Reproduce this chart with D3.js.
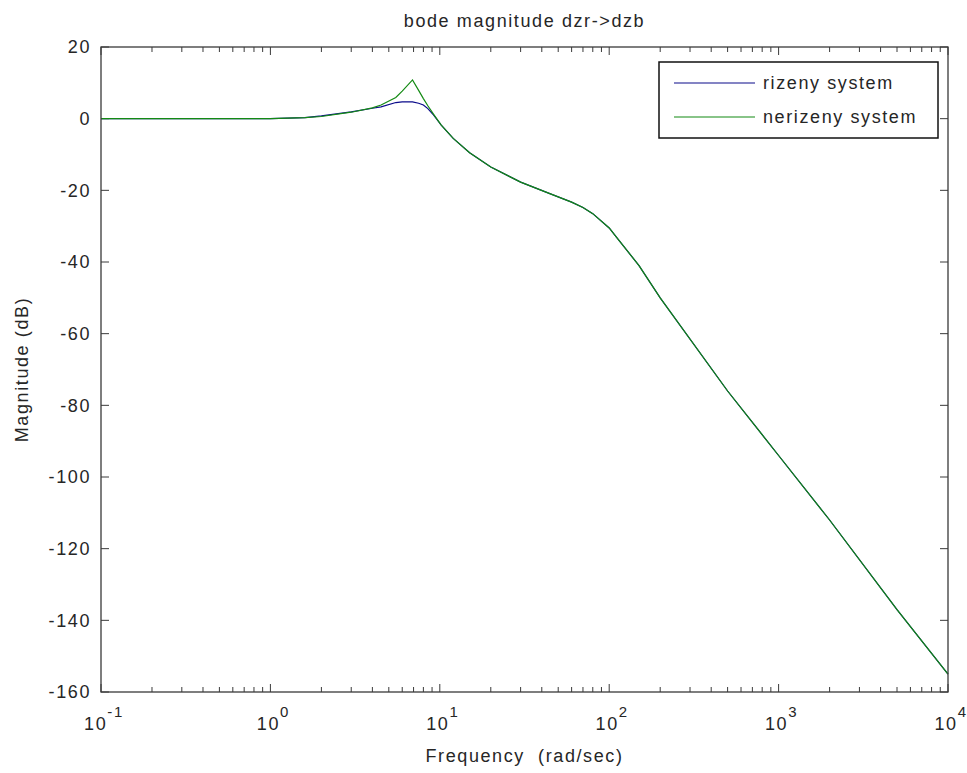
<!DOCTYPE html>
<html>
<head>
<meta charset="utf-8">
<script src="https://cdn.jsdelivr.net/npm/d3@7"></script>
<style>
  body { margin: 0; background: #fff; }
  svg text { font-family: "Liberation Sans", Arial, sans-serif; fill: #262626; }
</style>
</head>
<body>
<div id="chart"></div>
<script>
// frequency points (rad/sec)
let freq = [0.1, 1, 1.6, 2, 3, 4, 4.5, 5.5, 6, 6.9, 7.5, 8, 8.5, 9.2, 10.2, 12, 15, 20, 30, 45, 60, 70, 80, 100, 110, 150, 200, 500, 1000, 2000, 5000, 10000];
// magnitude (dB)
let rizeny   = [0, 0, 0.3, 0.8, 1.9, 2.9, 3.3, 4.5, 4.7, 4.7, 4.3, 3.8, 2.8, 1.0, -1.8, -5.5, -9.5, -13.5, -17.7, -21, -23.3, -24.8, -26.5, -30.5, -33, -41, -50, -76, -94, -112, -137, -155];
let nerizeny = [0, 0, 0.3, 0.6, 1.8, 3.0, 3.8, 5.9, 7.7, 10.8, 7.9, 5.6, 3.6, 1.2, -1.8, -5.5, -9.5, -13.5, -17.7, -21, -23.3, -24.8, -26.5, -30.5, -33, -41, -50, -76, -94, -112, -137, -155];

let series_names = ["rizeny system", "nerizeny system"];
let series_colors = ["#0a0a8a", "#138a13"];

let yticks = [20, 0, -20, -40, -60, -80, -100, -120, -140, -160];
let xdecades = [0.1, 1, 10, 100, 1000, 10000];
let xexponents = ["-1", "0", "1", "2", "3", "4"];

function drawChart() {
    let win_width = 967, win_height = 773;
    let margin = {top: 47, right: 19, bottom: 81, left: 101};
    let width = win_width - margin.left - margin.right;
    let height = win_height - margin.top - margin.bottom;

    let svg = d3.select("#chart")
        .append("svg")
        .attr("width", win_width)
        .attr("height", win_height);

    let g = svg.append("g")
        .attr("transform", "translate(" + margin.left + "," + margin.top + ")");

    let x = d3.scaleLog().domain([0.1, 10000]).range([0, width]);
    let y = d3.scaleLinear().domain([-160, 20]).range([height, 0]);

    let axisColor = "#3a3a3a";
    let fs = 18, ls = "1.6px";

    // minor ticks (log)
    let minor = [];
    xdecades.slice(0, -1).forEach(function(d) {
        for (let k = 2; k <= 9; k++) minor.push(d * k);
    });

    g.selectAll(".minor-b").data(minor).join("line")
        .attr("x1", d => x(d)).attr("x2", d => x(d))
        .attr("y1", height).attr("y2", height - 5)
        .attr("stroke", axisColor);
    g.selectAll(".minor-t").data(minor).join("line")
        .attr("x1", d => x(d)).attr("x2", d => x(d))
        .attr("y1", 0).attr("y2", 5)
        .attr("stroke", axisColor);

    // major ticks x
    g.selectAll(".major-b").data(xdecades).join("line")
        .attr("x1", d => x(d)).attr("x2", d => x(d))
        .attr("y1", height).attr("y2", height - 8)
        .attr("stroke", axisColor);
    g.selectAll(".major-t").data(xdecades).join("line")
        .attr("x1", d => x(d)).attr("x2", d => x(d))
        .attr("y1", 0).attr("y2", 8)
        .attr("stroke", axisColor);

    // y ticks, both sides
    g.selectAll(".ytick-l").data(yticks).join("line")
        .attr("x1", 0).attr("x2", 8)
        .attr("y1", d => y(d)).attr("y2", d => y(d))
        .attr("stroke", axisColor);
    g.selectAll(".ytick-r").data(yticks).join("line")
        .attr("x1", width).attr("x2", width - 8)
        .attr("y1", d => y(d)).attr("y2", d => y(d))
        .attr("stroke", axisColor);

    // y tick labels
    g.selectAll(".ylab").data(yticks).join("text")
        .attr("x", -10)
        .attr("y", d => y(d))
        .attr("dy", "0.35em")
        .attr("text-anchor", "end")
        .style("font-size", fs + "px")
        .style("letter-spacing", ls)
        .text(d => d);

    // x tick labels 10^n
    let xl = g.selectAll(".xlab").data(xdecades).join("text")
        .attr("x", (d, i) => x(d) + 3)
        .attr("y", height + 38)
        .attr("text-anchor", "middle")
        .style("font-size", fs + "px")
        .style("letter-spacing", ls);
    xl.append("tspan").text("10");
    xl.append("tspan")
        .attr("dy", -13)
        .style("font-size", "15px")
        .text((d, i) => xexponents[i]);

    // lines
    let data = [rizeny, nerizeny];
    let line = d3.line()
        .x((d, i) => x(freq[i]))
        .y(d => y(d));

    g.selectAll(".curve").data(data).join("path")
        .attr("fill", "none")
        .attr("stroke", (d, i) => series_colors[i])
        .attr("stroke-width", 1.2)
        .attr("d", line);

    // box
    g.append("rect")
        .attr("x", 0).attr("y", 0)
        .attr("width", width).attr("height", height)
        .attr("fill", "none")
        .attr("stroke", axisColor)
        .attr("stroke-width", 1.3);

    // title and axis labels
    svg.append("text")
        .attr("x", margin.left + width / 2)
        .attr("y", 27)
        .attr("text-anchor", "middle")
        .style("font-size", fs + "px")
        .style("letter-spacing", ls)
        .text("bode magnitude dzr->dzb");

    svg.append("text")
        .attr("x", margin.left + width / 2)
        .attr("y", 762)
        .attr("text-anchor", "middle")
        .style("font-size", fs + "px")
        .style("letter-spacing", ls)
        .style("white-space", "pre")
        .text("Frequency  (rad/sec)");

    svg.append("text")
        .attr("transform", "translate(28," + (margin.top + height / 2) + ") rotate(-90)")
        .attr("text-anchor", "middle")
        .style("font-size", fs + "px")
        .style("letter-spacing", ls)
        .text("Magnitude (dB)");

    // legend
    let lg = svg.append("g").attr("transform", "translate(659,62)");
    lg.append("rect")
        .attr("width", 279).attr("height", 76)
        .attr("fill", "#fff")
        .attr("stroke", "#111")
        .attr("stroke-width", 1.5);
    series_names.forEach(function(name, i) {
        let yy = 21 + i * 34;
        lg.append("line")
            .attr("x1", 15).attr("x2", 96)
            .attr("y1", yy).attr("y2", yy)
            .attr("stroke", series_colors[i])
            .attr("stroke-width", 1.2);
        lg.append("text")
            .attr("x", 104).attr("y", yy)
            .attr("dy", "0.35em")
            .style("font-size", fs + "px")
            .style("letter-spacing", ls)
            .text(name);
    });
}

drawChart();
</script>
</body>
</html>
